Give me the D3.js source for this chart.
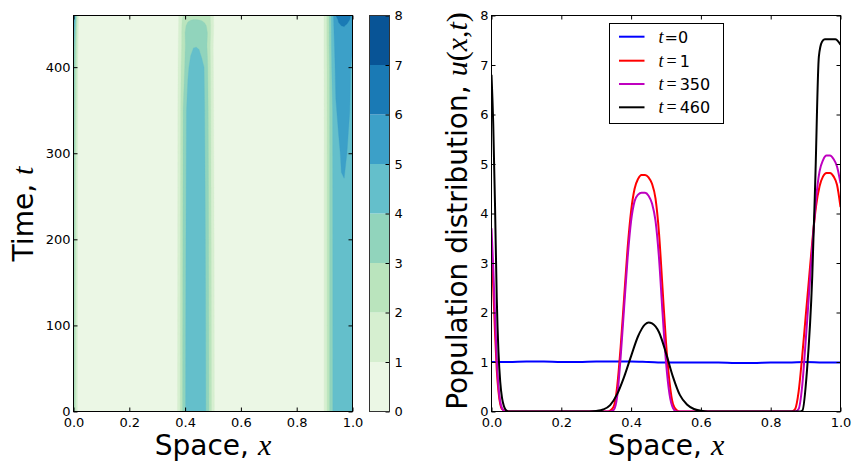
<!DOCTYPE html>
<html><head><meta charset="utf-8">
<script src="https://cdn.jsdelivr.net/npm/d3@7"></script>
<style>
body{margin:0;background:#fff}
svg{display:block}
text{font-family:"DejaVu Sans",sans-serif}
</style>
</head><body>
<svg id="c" width="852" height="461"></svg>
<script>
// ---------- data ----------
const spaceTicks = [0, 0.2, 0.4, 0.6, 0.8, 1.0];
const timeTicks = [0, 100, 200, 300, 400];
const uTicks = [0, 1, 2, 3, 4, 5, 6, 7, 8];
const levels = [0, 1, 2, 3, 4, 5, 6, 7, 8];
const levelColors = ["#ebf7e5", "#d6efd0", "#bae4bd", "#91d4bc", "#64bfcb", "#3ca0c8", "#1a7ab5", "#085496"];

// contour field u(x,t): columns at gridX, rows at gridT
const gridX = [0, 0.005, 0.01, 0.015, 0.02, 0.03, 0.04, 0.05,
  0.3,
  0.34, 0.35, 0.36, 0.37, 0.38, 0.39, 0.40, 0.41, 0.42, 0.43, 0.44, 0.45, 0.46, 0.47, 0.48, 0.49, 0.50, 0.51, 0.52, 0.53, 0.55,
  0.7,
  0.86, 0.87, 0.88, 0.89, 0.90, 0.91, 0.92, 0.93, 0.94, 0.95, 0.96, 0.97, 0.98, 0.99, 1.0];
const gridT = [0, 100, 200, 260, 300, 350, 400, 425, 440, 448, 455, 460];
const fieldLeft = [
  [3.4, 2.5, 1.6, 0.85, 0.4, 0.05, 0, 0],
  [3.45, 2.55, 1.65, 0.87, 0.42, 0.06, 0, 0],
  [3.5, 2.6, 1.7, 0.9, 0.45, 0.06, 0.01, 0],
  [3.55, 2.65, 1.75, 0.95, 0.47, 0.07, 0.01, 0],
  [3.6, 2.75, 1.85, 1.0, 0.48, 0.07, 0.01, 0],
  [3.7, 2.9, 1.95, 1.05, 0.5, 0.07, 0, 0],
  [4.0, 3.1, 2.1, 1.1, 0.55, 0.08, 0, 0],
  [4.4, 3.4, 2.3, 1.2, 0.6, 0.09, 0, 0],
  [4.9, 3.8, 2.5, 1.3, 0.65, 0.1, 0, 0],
  [5.3, 4.1, 2.7, 1.4, 0.7, 0.1, 0, 0],
  [5.7, 4.5, 2.9, 1.5, 0.75, 0.12, 0.01, 0],
  [6.0, 4.8, 3.1, 1.6, 0.8, 0.15, 0.02, 0]
];
const fieldMiddle = [
  [0.02, 0.08, 0.25, 0.75, 1.7, 2.9, 3.9, 4.5, 4.7, 4.78, 4.78, 4.73, 4.6, 4.3, 3.6, 2.5, 1.4, 0.6, 0.15, 0.03, 0],
  [0.02, 0.08, 0.24, 0.72, 1.65, 2.85, 3.87, 4.45, 4.64, 4.7, 4.7, 4.66, 4.53, 4.25, 3.55, 2.45, 1.35, 0.57, 0.14, 0.03, 0],
  [0.02, 0.07, 0.22, 0.7, 1.6, 2.8, 3.83, 4.38, 4.56, 4.62, 4.62, 4.58, 4.45, 4.18, 3.48, 2.38, 1.3, 0.53, 0.12, 0.02, 0],
  [0.01, 0.06, 0.21, 0.68, 1.57, 2.76, 3.8, 4.33, 4.5, 4.56, 4.56, 4.52, 4.39, 4.12, 3.42, 2.32, 1.25, 0.5, 0.11, 0.02, 0],
  [0.01, 0.05, 0.2, 0.67, 1.55, 2.73, 3.78, 4.3, 4.46, 4.52, 4.52, 4.48, 4.35, 4.07, 3.37, 2.27, 1.2, 0.46, 0.1, 0.02, 0],
  [0.01, 0.04, 0.18, 0.65, 1.52, 2.7, 3.75, 4.25, 4.38, 4.42, 4.42, 4.38, 4.27, 4.0, 3.3, 2.2, 1.15, 0.42, 0.09, 0.01, 0],
  [0.01, 0.03, 0.15, 0.6, 1.45, 2.4, 3.1, 3.9, 4.17, 4.25, 4.25, 4.22, 4.12, 3.97, 3.1, 2.1, 1.1, 0.4, 0.08, 0.01, 0],
  [0, 0.02, 0.13, 0.55, 1.35, 2.2, 2.95, 3.5, 3.85, 3.97, 3.98, 3.95, 3.82, 3.5, 2.9, 2.0, 1.05, 0.4, 0.08, 0.01, 0],
  [0, 0.02, 0.12, 0.5, 1.3, 2.2, 3.0, 3.4, 3.6, 3.65, 3.65, 3.6, 3.5, 3.3, 3.0, 2.15, 1.15, 0.42, 0.08, 0.01, 0],
  [0, 0.02, 0.11, 0.48, 1.27, 2.15, 2.9, 3.2, 3.35, 3.4, 3.4, 3.37, 3.3, 3.15, 2.9, 2.15, 1.17, 0.43, 0.08, 0.01, 0],
  [0, 0.02, 0.1, 0.47, 1.25, 2.05, 2.65, 2.88, 2.98, 3.01, 3.01, 2.99, 2.94, 2.84, 2.62, 2.05, 1.15, 0.42, 0.08, 0.01, 0],
  [0, 0.02, 0.08, 0.5, 1.25, 1.85, 2.35, 2.6, 2.75, 2.8, 2.8, 2.78, 2.72, 2.6, 2.35, 2.0, 1.15, 0.4, 0.08, 0.01, 0]
];
const fieldRight = [
  [0, 0.03, 0.15, 0.5, 1.1, 2.1, 3.2, 4.05, 4.5, 4.72, 4.8, 4.8, 4.7, 4.5, 4.13],
  [0, 0.03, 0.15, 0.5, 1.1, 2.1, 3.2, 4.06, 4.52, 4.77, 4.87, 4.87, 4.77, 4.57, 4.25],
  [0, 0.03, 0.15, 0.5, 1.1, 2.1, 3.2, 4.07, 4.55, 4.82, 4.93, 4.94, 4.84, 4.64, 4.35],
  [0, 0.03, 0.15, 0.5, 1.1, 2.1, 3.2, 4.08, 4.6, 4.86, 4.96, 4.97, 4.89, 4.7, 4.42],
  [0, 0.03, 0.15, 0.5, 1.1, 2.1, 3.2, 4.1, 4.65, 4.92, 5.05, 5.08, 5.0, 4.82, 4.5],
  [0, 0.03, 0.15, 0.5, 1.12, 2.12, 3.22, 4.12, 4.95, 5.1, 5.17, 5.17, 5.12, 5.01, 4.65],
  [0, 0.03, 0.15, 0.5, 1.15, 2.15, 3.25, 4.6, 5.13, 5.3, 5.38, 5.4, 5.35, 5.08, 4.85],
  [0, 0.03, 0.15, 0.5, 1.15, 2.2, 3.45, 4.65, 5.3, 5.55, 5.65, 5.67, 5.6, 5.35, 5.05],
  [0, 0.03, 0.15, 0.5, 1.15, 2.2, 3.5, 4.7, 5.5, 5.8, 5.9, 5.92, 5.85, 5.6, 5.3],
  [0, 0.03, 0.15, 0.5, 1.15, 2.2, 3.5, 4.72, 5.65, 5.93, 6.0, 6.01, 5.95, 5.75, 5.45],
  [0, 0.03, 0.15, 0.5, 1.15, 2.25, 3.55, 4.75, 5.8, 6.05, 6.15, 6.17, 6.12, 6.0, 5.6],
  [0, 0.03, 0.15, 0.5, 1.15, 2.25, 3.6, 4.8, 6.0, 6.3, 6.42, 6.45, 6.38, 6.12, 5.7]
];

// profiles u(x, t) for the right panel, [x, u]
const profT0 = [[0,1.0],[0.05,1.0],[0.1,1.01],[0.15,1.01],[0.2,1.0],[0.25,1.0],[0.3,1.01],[0.35,1.01],[0.4,1.01],[0.45,1.0],[0.5,0.99],[0.55,0.99],[0.6,0.99],[0.65,0.99],[0.7,0.98],[0.75,0.98],[0.8,0.99],[0.85,0.99],[0.9,1.0],[0.95,0.99],[1.0,0.99]];
const profT1 = [[0,3.4],[0.005,2.5],[0.01,1.6],[0.015,0.85],[0.02,0.4],[0.025,0.15],[0.03,0.05],[0.04,0.01],[0.05,0],[0.3,0],[0.33,0],[0.34,0.02],[0.35,0.1],[0.36,0.5],[0.37,1.3],[0.38,2.3],[0.39,3.3],[0.40,4.05],[0.41,4.5],[0.42,4.7],[0.43,4.78],[0.44,4.78],[0.45,4.73],[0.46,4.6],[0.47,4.3],[0.48,3.6],[0.49,2.5],[0.50,1.4],[0.51,0.6],[0.52,0.15],[0.53,0.03],[0.54,0],[0.86,0],[0.87,0.05],[0.88,0.4],[0.89,1.1],[0.90,1.9],[0.91,2.7],[0.92,3.5],[0.93,4.15],[0.94,4.55],[0.95,4.75],[0.96,4.82],[0.97,4.82],[0.98,4.75],[0.99,4.58],[1.0,4.13]];
const profT350 = [[0,3.7],[0.005,2.9],[0.01,1.95],[0.015,1.05],[0.02,0.5],[0.025,0.2],[0.03,0.07],[0.035,0.02],[0.04,0],[0.34,0],[0.35,0.03],[0.36,0.3],[0.37,1.1],[0.38,2.1],[0.39,3.1],[0.40,3.85],[0.41,4.25],[0.42,4.38],[0.43,4.42],[0.44,4.42],[0.45,4.36],[0.46,4.2],[0.47,3.85],[0.48,3.1],[0.49,2.0],[0.50,1.0],[0.51,0.35],[0.52,0.07],[0.53,0],[0.87,0],[0.88,0.05],[0.89,0.5],[0.90,1.4],[0.91,2.4],[0.92,3.4],[0.93,4.3],[0.94,4.85],[0.95,5.08],[0.96,5.17],[0.97,5.17],[0.98,5.1],[0.99,4.95],[1.0,4.61]];
const profT460 = [[0,6.8],[0.005,5.8],[0.01,4.2],[0.015,2.3],[0.02,1.2],[0.025,0.6],[0.03,0.28],[0.035,0.12],[0.04,0.04],[0.045,0.01],[0.05,0],[0.28,0],[0.30,0.01],[0.32,0.04],[0.34,0.13],[0.36,0.35],[0.38,0.7],[0.40,1.12],[0.42,1.52],[0.44,1.76],[0.45,1.80],[0.46,1.78],[0.48,1.6],[0.50,1.18],[0.52,0.7],[0.54,0.33],[0.56,0.14],[0.58,0.05],[0.60,0.015],[0.62,0],[0.885,0],[0.891,0.02],[0.904,0.83],[0.919,2.72],[0.928,4.74],[0.938,7.17],[0.947,7.47],[0.955,7.52],[0.985,7.52],[1.0,7.41]];

const seriesNames = ["t=0", "t=1", "t=350", "t=460"];
const seriesNums = ["0", "1", "350", "460"];
const seriesColors = ["#0000ff", "#ff0000", "#bf00bf", "#000000"];

// ---------- drawing ----------
const svg = d3.select("#c");
const xL = d3.scaleLinear([0, 1], [73.5, 352.5]);
const yL = d3.scaleLinear([0, 460], [411.5, 15.5]);
const yC = d3.scaleLinear([0, 8], [411.5, 15.5]);
const cb = {x0: 369.5, x1: 389.5};
const xR = d3.scaleLinear([0, 1], [491.5, 840.5]);
const yR = d3.scaleLinear([0, 8], [411.5, 15.5]);

// --- contour field ---
const rows = gridT.map((t, j) => fieldLeft[j].concat([0], fieldMiddle[j], [0], fieldRight[j]));
const nx = gridX.length, nt = gridT.length;
const values = rows.flat();
const ix = d3.scaleLinear().domain(d3.range(nx)).range(gridX).clamp(true);
const it = d3.scaleLinear().domain(d3.range(nt)).range(gridT).clamp(true);
const proj = d3.geoTransform({
  point(px, py) { this.stream.point(xL(ix(px - 0.5)), yL(it(py - 0.5))); }
});
const cpath = d3.geoPath(proj);
const contours = d3.contours().size([nx, nt]).thresholds(levels.slice(0, -1))(values);
svg.append("defs").append("clipPath").attr("id", "clipL")
  .append("rect").attr("x", xL(0)).attr("y", yL(460)).attr("width", xL(1) - xL(0)).attr("height", yL(0) - yL(460));
svg.append("g").attr("clip-path", "url(#clipL)")
  .selectAll("path").data(contours).join("path")
  .attr("d", cpath)
  .attr("fill", (d, i) => levelColors[i])
  .attr("stroke", (d, i) => levelColors[i]).attr("stroke-width", 0.3);

function styleAxis(g, size) {
  g.select(".domain").remove();
  g.selectAll("line").attr("stroke", "#000");
  g.selectAll("text").attr("font-family", "DejaVu Sans").attr("font-size", size).attr("fill", "#000");
}
const fmt1 = d3.format(".1f");
// left panel axes
svg.append("g").attr("transform", `translate(0,${yL(0)})`)
  .call(d3.axisBottom(xL).tickValues(spaceTicks).tickSize(-4).tickPadding(6).tickFormat(fmt1))
  .call(g => styleAxis(g, 13));
svg.append("g").attr("transform", `translate(0,${yL(460)})`)
  .call(d3.axisTop(xL).tickValues(spaceTicks).tickSize(-4).tickFormat(""))
  .call(g => styleAxis(g, 13));
svg.append("g").attr("transform", `translate(${xL(0)},0)`)
  .call(d3.axisLeft(yL).tickValues(timeTicks).tickSize(-4).tickPadding(3))
  .call(g => styleAxis(g, 13));
svg.append("g").attr("transform", `translate(${xL(1)},0)`)
  .call(d3.axisRight(yL).tickValues(timeTicks).tickSize(-4).tickFormat(""))
  .call(g => styleAxis(g, 13));
svg.append("rect").attr("x", xL(0)).attr("y", yL(460)).attr("width", xL(1) - xL(0)).attr("height", yL(0) - yL(460))
  .attr("fill", "none").attr("stroke", "#000").attr("stroke-width", 1);

// colorbar
svg.append("g").selectAll("rect").data(levelColors).join("rect")
  .attr("x", cb.x0).attr("width", cb.x1 - cb.x0)
  .attr("y", (d, i) => yC(levels[i + 1])).attr("height", (d, i) => yC(levels[i]) - yC(levels[i + 1]))
  .attr("fill", d => d);
svg.append("g").attr("transform", `translate(${cb.x1},0)`)
  .call(d3.axisRight(yC).tickValues(uTicks).tickSize(-4).tickPadding(5).tickFormat(d3.format("d")))
  .call(g => styleAxis(g, 13));
svg.append("rect").attr("x", cb.x0).attr("y", yC(8)).attr("width", cb.x1 - cb.x0).attr("height", yC(0) - yC(8))
  .attr("fill", "none").attr("stroke", "#333").attr("stroke-width", 1);

// --- right panel ---
svg.select("defs").append("clipPath").attr("id", "clipR")
  .append("rect").attr("x", xR(0)).attr("y", yR(8)).attr("width", xR(1) - xR(0)).attr("height", yR(0) - yR(8));
const line = d3.line().x(d => xR(d[0])).y(d => yR(d[1])).curve(d3.curveMonotoneX);
const profiles = [profT0, profT1, profT350, profT460];
svg.append("g").attr("clip-path", "url(#clipR)")
  .selectAll("path").data(profiles).join("path")
  .attr("d", line).attr("fill", "none")
  .attr("stroke", (d, i) => seriesColors[i]).attr("stroke-width", 2).attr("stroke-linejoin", "round");

svg.append("g").attr("transform", `translate(0,${yR(0)})`)
  .call(d3.axisBottom(xR).tickValues(spaceTicks).tickSize(-4).tickPadding(6).tickFormat(fmt1))
  .call(g => styleAxis(g, 13));
svg.append("g").attr("transform", `translate(0,${yR(8)})`)
  .call(d3.axisTop(xR).tickValues(spaceTicks).tickSize(-4).tickFormat(""))
  .call(g => styleAxis(g, 13));
svg.append("g").attr("transform", `translate(${xR(0)},0)`)
  .call(d3.axisLeft(yR).tickValues(uTicks).tickSize(-4).tickPadding(3).tickFormat(d3.format("d")))
  .call(g => styleAxis(g, 13));
svg.append("g").attr("transform", `translate(${xR(1)},0)`)
  .call(d3.axisRight(yR).tickValues(uTicks).tickSize(-4).tickFormat(""))
  .call(g => styleAxis(g, 13));
svg.append("rect").attr("x", xR(0)).attr("y", yR(8)).attr("width", xR(1) - xR(0)).attr("height", yR(0) - yR(8))
  .attr("fill", "none").attr("stroke", "#000").attr("stroke-width", 1);

// legend
const lg = svg.append("g");
lg.append("rect").attr("x", 609.5).attr("y", 23.5).attr("width", 114).attr("height", 100)
  .attr("fill", "#fff").attr("stroke", "#000").attr("stroke-width", 1);
const rowY = [36.7, 60.7, 84, 107.3];
seriesNames.forEach((name, i) => {
  lg.append("line").attr("x1", 619).attr("x2", 644.5).attr("y1", rowY[i]).attr("y2", rowY[i])
    .attr("stroke", seriesColors[i]).attr("stroke-width", 2);
  const tx = lg.append("text").attr("x", 658.5).attr("y", rowY[i] + 5.8).attr("font-size", 16);
  tx.append("tspan").attr("font-family", "Liberation Serif").attr("font-style", "italic").attr("font-size", 18).text("t");
  if (i === 0) {
    tx.append("tspan").attr("dx", 1).text("=" + seriesNums[i]);
  } else {
    tx.append("tspan").attr("dx", 3).attr("font-family", "Liberation Serif").attr("font-size", 18).text("=");
    tx.append("tspan").attr("dx", 3).text(seriesNums[i]);
  }
});

// axis labels
function mathLabel(sel, parts) {
  parts.forEach(p => {
    const ts = sel.append("tspan").text(p.s);
    if (p.it) ts.attr("font-family", "Liberation Serif").attr("font-style", "italic").attr("font-size", 30);
    if (p.serif) ts.attr("font-family", "Liberation Serif").attr("font-size", 30);
    if (p.dx) ts.attr("dx", p.dx);
  });
}
const labelSize = 28;
const xl1 = svg.append("text").attr("x", (xL(0) + xL(1)) / 2).attr("y", 455).attr("text-anchor", "middle").attr("font-size", labelSize);
mathLabel(xl1, [{s: "Space,"}, {s: "x", it: true, dx: 9}]);
const xl2 = svg.append("text").attr("x", (xR(0) + xR(1)) / 2).attr("y", 455).attr("text-anchor", "middle").attr("font-size", labelSize);
mathLabel(xl2, [{s: "Space,"}, {s: "x", it: true, dx: 9}]);
const yl1 = svg.append("text").attr("transform", "translate(33,214) rotate(-90)").attr("text-anchor", "middle").attr("font-size", labelSize);
mathLabel(yl1, [{s: "Time,"}, {s: "t", it: true, dx: 9}]);
const yl2 = svg.append("text").attr("transform", "translate(467,211) rotate(-90)").attr("text-anchor", "middle").attr("font-size", labelSize);
mathLabel(yl2, [{s: "Population distribution,"}, {s: "u", it: true, dx: 9}, {s: "(", serif: true}, {s: "x", it: true}, {s: ",", serif: true}, {s: "t", it: true}, {s: ")", serif: true}]);
</script>
</body></html>
